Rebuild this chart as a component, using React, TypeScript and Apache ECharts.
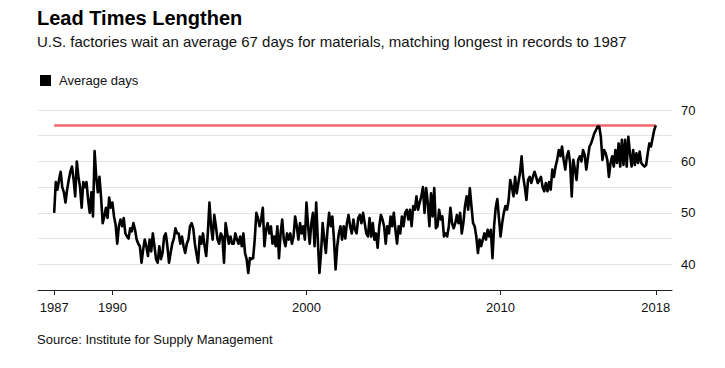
import React, { useEffect, useRef } from "react";
import * as echarts from "echarts";

const startYear = 1987;
const tickYears = [1987, 1990, 2000, 2010, 2018];
const recordLevel = 67;
const seriesName = "Average days";
const titleText = "Lead Times Lengthen";
const subtitleText =
  "U.S. factories wait an average 67 days for materials, matching longest in records to 1987";
const sourceText = "Source: Institute for Supply Management";

// Monthly average lead times (days), January of each year onward
const days1987 = [50, 56, 54.5, 56.4, 58, 55, 54, 52, 54.5, 56.4, 58, 59];
const days1988 = [56.5, 53.2, 60, 57, 55, 51, 56, 55, 56, 52.5, 50, 54];
const days1989 = [49.3, 62, 57, 54, 57, 53, 48, 49.3, 51, 49, 53, 51];
const days1990 = [52, 49.3, 47.7, 44, 47.4, 48.7, 47.4, 49, 46, 45.4, 45, 47];
const days1991 = [46.4, 48, 46.7, 44.8, 44, 43.5, 40.3, 42.8, 44.8, 43.5, 41.6, 44.8];
const days1992 = [42.5, 46, 43.5, 41, 40.3, 43.5, 41, 42.2, 45.4, 46, 43.5, 40.3];
const days1993 = [42.2, 44, 45, 47, 46, 46, 44, 45.4, 43.5, 42.2, 44, 44.8];
const days1994 = [47.4, 48, 47, 44, 42, 40.3, 45.4, 44, 46, 43.5, 41.6, 46];
const days1995 = [52, 47.4, 44.8, 49.6, 47.4, 44.8, 44, 46, 45.4, 40.3, 48, 46];
const days1996 = [44, 45.4, 44, 44, 46, 44.8, 44, 45.4, 43.5, 46, 42.2, 41];
const days1997 = [38.3, 41.2, 41, 41.2, 44.8, 50, 49, 47.4, 48.7, 51, 43.5, 46.7];
const days1998 = [48, 46, 47.4, 44, 45.4, 43.5, 47.4, 41.2, 46, 48.7, 44.8, 43.5];
const days1999 = [46, 44.8, 46, 44, 45.4, 49.3, 47.4, 44.8, 48, 46, 47.4, 44.8];
const days2000 = [52, 47.4, 44, 48, 50, 43.5, 52, 44.8, 38.3, 42.2, 48, 44.8];
const days2001 = [42.2, 46.7, 50, 47.4, 49.3, 44.8, 39, 43.5, 46, 47.4, 44.8, 47.4];
const days2002 = [45, 48, 49.6, 47.4, 46, 48.7, 46.7, 46, 49, 49.6, 48, 50];
const days2003 = [48, 46, 45.4, 49, 45.4, 48, 44.8, 46, 43.2, 47.4, 49.6, 48.7];
const days2004 = [47.4, 44, 47.4, 46, 49.3, 47.4, 50, 46.7, 44, 47.4, 46, 49.3];
const days2005 = [47.4, 50, 50.6, 48.7, 50.6, 47.4, 51.3, 50.6, 53.2, 50.6, 52, 53.2];
const days2006 = [55, 50, 54.8, 52, 47.4, 53.8, 49.3, 54.8, 47, 47.4, 50.6, 48.7];
const days2007 = [49.3, 45.4, 46, 45.4, 47.4, 51, 48, 47, 48, 49.6, 48, 50];
const days2008 = [46, 48, 51.3, 53.2, 50.6, 54.8, 51.3, 48, 47.4, 45.4, 42.2, 44.8];
const days2009 = [43.5, 44.8, 46, 44.8, 46.7, 45.4, 46.7, 41.2, 47.4, 51, 52.7, 49];
const days2010 = [45.4, 48, 50, 51.3, 50.6, 52.5, 56.4, 55, 53.2, 57, 53.8, 55.8];
const days2011 = [57.7, 61, 57, 55, 52.5, 56.4, 57, 55.8, 57, 58, 57, 55.8];
const days2012 = [56.4, 57, 55, 54.2, 55.8, 54.2, 56, 54.5, 58.4, 57, 59, 60.3];
const days2013 = [62.2, 61, 62.9, 60.3, 58.4, 61, 62, 59.7, 53.2, 60.3, 58.4, 56.4];
const days2014 = [60.3, 61, 60, 62.2, 61.3, 58.4, 60.7, 62.9, 63.5, 64.5, 65.5, 66.1];
const days2015 = [66.8, 66.8, 64.8, 60.3, 62.2, 61.6, 60.3, 57, 59.7, 61, 59, 62.2];
const days2016 = [59.7, 63.5, 59, 64.2, 59.3, 64.2, 59, 64.8, 61.6, 59, 62.2, 59.3];
const days2017 = [61.6, 59.7, 61.9, 59.7, 59.3, 59, 59.3, 61.6, 63.5, 62.9, 64.5, 66.1];
const days2018 = [67];

const leadTimes = [
  ...days1987, ...days1988, ...days1989, ...days1990, ...days1991, ...days1992,
  ...days1993, ...days1994, ...days1995, ...days1996, ...days1997, ...days1998,
  ...days1999, ...days2000, ...days2001, ...days2002, ...days2003, ...days2004,
  ...days2005, ...days2006, ...days2007, ...days2008, ...days2009, ...days2010,
  ...days2011, ...days2012, ...days2013, ...days2014, ...days2015, ...days2016,
  ...days2017, ...days2018,
];

const FONT = '"Liberation Sans", Arial, Helvetica, sans-serif';

export default function App() {
  const ref = useRef<HTMLDivElement>(null);

  useEffect(() => {
    const chart = echarts.init(ref.current!, null, { renderer: "svg" });
    const last = leadTimes.length - 1;
    const lineData = leadTimes.map((v, i) => [i, v]);
    const tickVals = tickYears.map((y) => (y - startYear) * 12);

    chart.setOption({
      animation: false,
      textStyle: { fontFamily: FONT },
      grid: { left: 38, right: 53, top: 110, bottom: 78 },
      legend: {
        data: [{ name: seriesName, icon: "rect" }],
        left: 40,
        top: 74,
        padding: 0,
        itemWidth: 11,
        itemHeight: 11,
        selectedMode: false,
        textStyle: { fontSize: 13, color: "#111", fontFamily: FONT, padding: [0, 0, 0, 3] },
      },
      xAxis: {
        type: "value",
        min: -10,
        max: last + 10,
        splitLine: { show: false },
        axisLine: { show: true, lineStyle: { color: "#222", width: 1 } },
        axisTick: {
          show: true,
          customValues: tickVals,
          length: 5,
          lineStyle: { color: "#222", width: 1 },
        },
        axisLabel: {
          customValues: tickVals,
          formatter: (v: number) => String(Math.round(startYear + v / 12)),
          color: "#111",
          fontSize: 13,
          margin: 11,
          fontFamily: FONT,
        },
      },
      yAxis: {
        type: "value",
        position: "right",
        min: 35,
        max: 70,
        interval: 5,
        axisLine: { show: false },
        axisTick: { show: false },
        splitLine: { show: true, lineStyle: { color: "#e3e3e3", width: 1 } },
        axisLabel: {
          formatter: (v: number) => (v % 10 === 0 ? String(v) : ""),
          color: "#111",
          fontSize: 13,
          margin: 9,
          fontFamily: FONT,
        },
      },
      series: [
        {
          type: "line",
          name: "Record",
          data: [
            [0, recordLevel],
            [last, recordLevel],
          ],
          symbol: "none",
          silent: true,
          z: 1,
          lineStyle: { color: "#f4676a", width: 2.5 },
          itemStyle: { color: "#f4676a" },
        },
        {
          type: "line",
          name: seriesName,
          data: lineData,
          symbol: "none",
          z: 2,
          lineStyle: { color: "#000", width: 2.6, join: "round" },
          itemStyle: { color: "#000" },
        },
      ],
      graphic: [
        {
          type: "text",
          x: 37,
          y: 17.5,
          style: {
            text: titleText,
            fontSize: 20,
            fontWeight: "bold",
            fontFamily: FONT,
            fill: "#000",
            verticalAlign: "middle",
          },
        },
        {
          type: "text",
          x: 37,
          y: 41,
          style: {
            text: subtitleText,
            fontSize: 15,
            fontFamily: FONT,
            fill: "#111",
            verticalAlign: "middle",
          },
        },
        {
          type: "text",
          x: 37,
          y: 339.5,
          style: {
            text: sourceText,
            fontSize: 13,
            fontFamily: FONT,
            fill: "#111",
            verticalAlign: "middle",
          },
        },
      ],
    });

    return () => chart.dispose();
  }, []);

  return (
    <div
      ref={ref}
      style={{ position: "fixed", left: 0, top: 0, width: 725, height: 368, background: "#fff" }}
    />
  );
}
